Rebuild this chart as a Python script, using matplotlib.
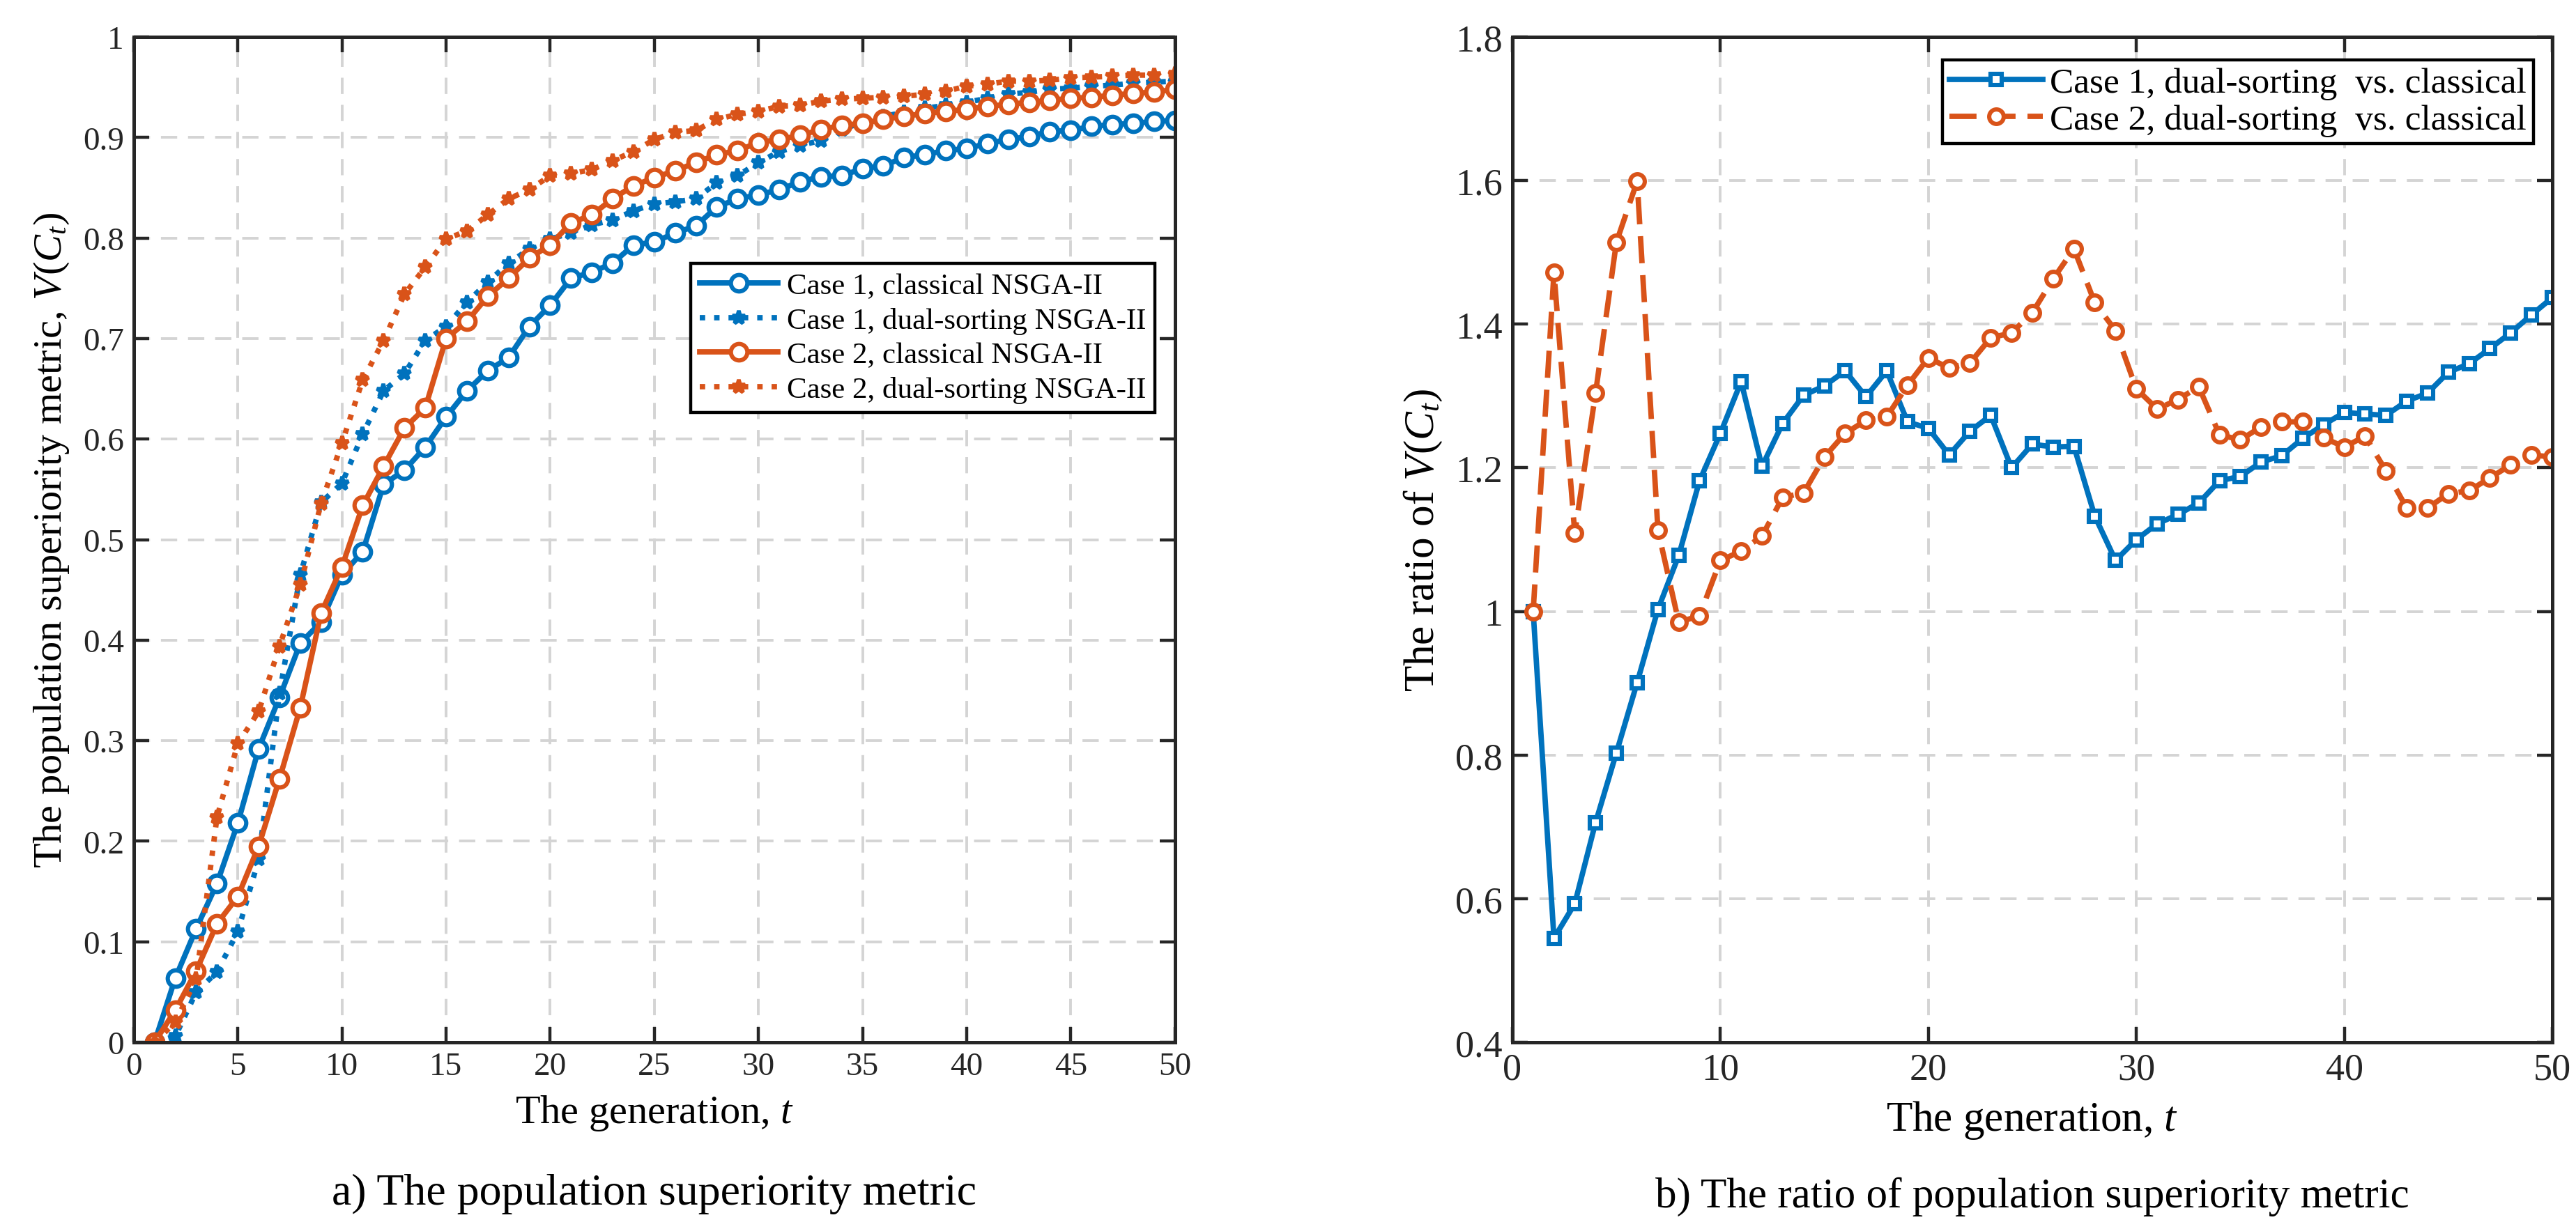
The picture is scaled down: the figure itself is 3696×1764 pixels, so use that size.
import matplotlib
matplotlib.use("Agg")
import matplotlib.pyplot as plt
import numpy as np

plt.rcParams['font.family'] = ['Liberation Serif', 'DejaVu Serif']
plt.rcParams['mathtext.fontset'] = 'custom'
plt.rcParams['mathtext.rm'] = 'Liberation Serif'
plt.rcParams['mathtext.it'] = 'Liberation Serif:italic'

generations = list(range(1, 51))

c1_classical = [0, 0.064, 0.113, 0.158, 0.218, 0.292, 0.343, 0.397, 0.418, 0.465,
                0.488, 0.555, 0.569, 0.592, 0.622, 0.648, 0.668, 0.681, 0.712, 0.733,
                0.760, 0.766, 0.775, 0.793, 0.796, 0.805, 0.812, 0.831, 0.839, 0.843,
                0.848, 0.856, 0.861, 0.862, 0.869, 0.872, 0.880, 0.883, 0.887, 0.889,
                0.894, 0.898, 0.901, 0.906, 0.907, 0.911, 0.913, 0.914, 0.916, 0.917]
c1_dual = [0, 0.006, 0.050, 0.070, 0.110, 0.182, 0.347, 0.465, 0.537, 0.556,
           0.605, 0.648, 0.665, 0.698, 0.712, 0.736, 0.756, 0.775, 0.789, 0.799,
           0.805, 0.813, 0.818, 0.827, 0.834, 0.836, 0.839, 0.855, 0.862, 0.875,
           0.886, 0.892, 0.897, 0.908, 0.915, 0.921, 0.925, 0.929, 0.932, 0.935,
           0.939, 0.943, 0.945, 0.948, 0.949, 0.951, 0.952, 0.954, 0.955, 0.956]
c2_classical = [0, 0.032, 0.071, 0.118, 0.145, 0.195, 0.262, 0.333, 0.427, 0.473,
                0.534, 0.573, 0.611, 0.631, 0.700, 0.717, 0.742, 0.760, 0.780, 0.793,
                0.815, 0.823, 0.839, 0.852, 0.860, 0.867, 0.875, 0.883, 0.887, 0.895,
                0.898, 0.902, 0.908, 0.912, 0.914, 0.918, 0.921, 0.924, 0.926, 0.928,
                0.931, 0.933, 0.935, 0.937, 0.939, 0.940, 0.942, 0.944, 0.945, 0.948]
c2_dual = [0, 0.020, 0.063, 0.224, 0.297, 0.329, 0.394, 0.455, 0.536, 0.596,
           0.659, 0.698, 0.744, 0.771, 0.799, 0.807, 0.823, 0.839, 0.848, 0.862,
           0.864, 0.868, 0.877, 0.886, 0.898, 0.905, 0.907, 0.918, 0.923, 0.926,
           0.931, 0.932, 0.936, 0.938, 0.939, 0.940, 0.941, 0.943, 0.946, 0.951,
           0.953, 0.956, 0.956, 0.957, 0.959, 0.960, 0.961, 0.962, 0.962, 0.963]

ratio_c1 = [1.0, 0.545, 0.593, 0.706, 0.803, 0.901, 1.003, 1.078, 1.182, 1.248,
            1.320, 1.202, 1.262, 1.301, 1.314, 1.335, 1.299, 1.335, 1.264, 1.255,
            1.218, 1.251, 1.273, 1.200, 1.233, 1.229, 1.230, 1.133, 1.071, 1.100,
            1.122, 1.135, 1.151, 1.182, 1.188, 1.208, 1.217, 1.241, 1.260, 1.277,
            1.275, 1.273, 1.293, 1.304, 1.333, 1.345, 1.366, 1.388, 1.413, 1.437]
ratio_c2 = [1.0, 1.472, 1.109, 1.304, 1.514, 1.599, 1.113, 0.985, 0.994, 1.071,
            1.084, 1.105, 1.159, 1.165, 1.215, 1.248, 1.266, 1.271, 1.315, 1.353,
            1.339, 1.346, 1.381, 1.388, 1.416, 1.463, 1.505, 1.430, 1.391, 1.310,
            1.282, 1.295, 1.313, 1.246, 1.239, 1.257, 1.264, 1.264, 1.242, 1.229,
            1.244, 1.196, 1.144, 1.144, 1.164, 1.168, 1.186, 1.204, 1.218, 1.215]

labels_left = ['Case 1, classical NSGA-II', 'Case 1, dual-sorting NSGA-II',
               'Case 2, classical NSGA-II', 'Case 2, dual-sorting NSGA-II']
labels_right = ['Case 1, dual-sorting  vs. classical', 'Case 2, dual-sorting  vs. classical']

BLUE = '#0072BD'
ORANGE = '#D95319'

fig = plt.figure(figsize=(18.48, 8.825), dpi=200)
ax1 = fig.add_axes([0.0519, 0.1518, 0.4042, 0.8176])
ax2 = fig.add_axes([0.5871, 0.1518, 0.4037, 0.8176])

lw = 2.8
ax1.plot(generations, c1_classical, '-', color=BLUE, lw=lw, marker='o', ms=8.5,
         mfc='white', mew=2.2, label=labels_left[0])
ax1.plot(generations, c1_dual, ':', color=BLUE, lw=lw, marker='*', ms=7,
         mew=2.0, label=labels_left[1])
ax1.plot(generations, c2_classical, '-', color=ORANGE, lw=lw, marker='o', ms=8.5,
         mfc='white', mew=2.2, label=labels_left[2])
ax1.plot(generations, c2_dual, ':', color=ORANGE, lw=lw, marker='*', ms=7,
         mew=2.0, label=labels_left[3])

ax2.plot(generations, ratio_c1, '-', color=BLUE, lw=lw, marker='s', ms=6,
         mfc='white', mew=2.2, label=labels_right[0])
ax2.plot(generations, ratio_c2, '--', color=ORANGE, lw=lw, marker='o', ms=7.5,
         mfc='white', mew=2.2, label=labels_right[1], dashes=(5, 2.2))

ax1.set_xlim(0, 50)
ax1.set_ylim(0, 1)
ax1.set_xticks(np.arange(0, 51, 5))
ax1.set_yticks(np.arange(0, 1.01, 0.1))
ax1.set_yticklabels(['0'] + ['%.1f' % v for v in np.arange(0.1, 0.95, 0.1)] + ['1'])

ax2.set_xlim(0, 50)
ax2.set_ylim(0.4, 1.8)
ax2.set_xticks(np.arange(0, 51, 10))
yt = [0.4, 0.6, 0.8, 1.0, 1.2, 1.4, 1.6, 1.8]
ax2.set_yticks(yt)
ax2.set_yticklabels(['0.4', '0.6', '0.8', '1', '1.2', '1.4', '1.6', '1.8'])

for ax, fs in ((ax1, 17), (ax2, 19.5)):
    ax.grid(True, linestyle=(0, (6, 4)), color='#d4d4d4', lw=1.4)
    ax.set_axisbelow(True)
    ax.tick_params(direction='in', top=True, right=True, length=8, width=1.6,
                   labelsize=fs, colors='#262626', pad=5)
    for s in ax.spines.values():
        s.set_linewidth(1.8)
        s.set_color('#262626')

ax1.set_xlabel('The generation, $t$', fontsize=21, labelpad=6)
ax1.set_ylabel('The population superiority metric, $V(C_t)$', fontsize=21, labelpad=6)
ax2.set_xlabel('The generation, $t$', fontsize=22, labelpad=6)
ax2.set_ylabel('The ratio of $V(C_t)$', fontsize=22, labelpad=6)

leg1 = ax1.legend(loc='upper left', bbox_to_anchor=(0.535, 0.775), fontsize=15.5,
                  frameon=True, fancybox=False, edgecolor='black', framealpha=1,
                  borderpad=0.3, labelspacing=0.25, handlelength=2.6, handletextpad=0.3,
                  borderaxespad=0)
leg1.get_frame().set_linewidth(1.6)
leg2 = ax2.legend(loc='upper right', bbox_to_anchor=(0.982, 0.977), fontsize=18.5,
                  frameon=True, fancybox=False, edgecolor='black', framealpha=1,
                  borderpad=0.2, labelspacing=0.1, handlelength=2.6, handletextpad=0.2,
                  borderaxespad=0)
leg2.get_frame().set_linewidth(1.6)

fig.text(0.0519 + 0.4042 / 2, 0.029, 'a) The population superiority metric',
         ha='center', va='center', fontsize=23)
fig.text(0.5871 + 0.4037 / 2, 0.027, 'b) The ratio of population superiority metric',
         ha='center', va='center', fontsize=22)

fig.savefig('out.png', dpi=200)
